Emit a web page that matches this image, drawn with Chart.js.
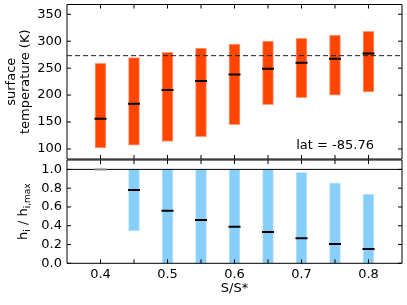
<!DOCTYPE html>
<html><head><meta charset="utf-8">
<script src="https://cdn.jsdelivr.net/npm/chart.js@4/dist/chart.umd.min.js"></script>
<style>
html,body{margin:0;padding:0;background:#fff;}
#wrap{position:relative;width:407px;height:305px;overflow:hidden;}
.box{position:absolute;left:0;width:407px;}
#err{position:absolute;left:70px;top:60px;font:10px monospace;color:#00f;}
</style></head><body>
<div id="wrap">
<div class="box" style="top:0;height:160px"><canvas id="c1" width="407" height="160"></canvas></div>
<div class="box" style="top:159px;height:146px"><canvas id="c2" width="407" height="146"></canvas></div>
<div id="err"></div>
</div>
<script>
// ---- data ----
const sValues    = [0.4, 0.45, 0.5, 0.55, 0.6, 0.65, 0.7, 0.75, 0.8];
const tempMin    = [102, 107, 114, 123, 145, 182, 195, 200, 206];
const tempMax    = [259, 269.5, 279.5, 287, 294.5, 300, 305.5, 311.5, 318.5];
const tempMedian = [156, 184, 209.5, 226, 238, 249, 260, 267.5, 277];
const freezingPoint = 273.15;
const hMin    = [1.0, 0.344, 0, 0, 0, 0, 0, 0, 0];
const hMax    = [1.0, 1.0, 1.0, 1.0, 1.0, 1.0, 0.968, 0.857, 0.737];
const hMedian = [1.0, 0.78, 0.56, 0.46, 0.39, 0.333, 0.266, 0.205, 0.152];
const hReference = 1.0;
const xRange = [0.35, 0.85];
const xTicks = [0.4, 0.45, 0.5, 0.55, 0.6, 0.65, 0.7, 0.75, 0.8];
const xTickLabels = ['0.4', '', '0.5', '', '0.6', '', '0.7', '', '0.8'];
const tempRange = [81.4, 368.1];
const tempTicks = [100, 150, 200, 250, 300, 350];
const tempTickLabels = ['100', '150', '200', '250', '300', '350'];
const hRange = [0, 1.1];
const hTicks = [0, 0.2, 0.4, 0.6, 0.8, 1.0];
const hTickLabels = ['0.0', '0.2', '0.4', '0.6', '0.8', '1.0'];
const annotationText = 'lat = -85.76';
const topYTitle = ['surface', 'temperature (K)'];
const xTitle = 'S/S*';

Chart.defaults.font.family = "'DejaVu Sans', sans-serif";
Chart.defaults.font.size = 13;
Chart.defaults.color = '#000';

const FONT = "'DejaVu Sans', sans-serif";

function report(e) {
  document.getElementById('err').textContent += ' ' + (e && e.message ? e.message : e);
}

function drawFrame(chart) {
  const ctx = chart.ctx, a = chart.chartArea, xs = chart.scales.x, ys = chart.scales.y;
  ctx.save();
  ctx.setLineDash([]);
  ctx.strokeStyle = '#000';
  ctx.lineWidth = 1;
  ctx.beginPath();
  const L = 4;
  xTicks.forEach(v => {
    const px = xs.getPixelForValue(v);
    ctx.moveTo(px, a.bottom); ctx.lineTo(px, a.bottom - L);
    ctx.moveTo(px, a.top); ctx.lineTo(px, a.top + L);
  });
  const yt = chart.canvas.id === 'c1' ? tempTicks : hTicks;
  yt.forEach(v => {
    const py = ys.getPixelForValue(v);
    ctx.moveTo(a.left, py); ctx.lineTo(a.left + L, py);
    ctx.moveTo(a.right, py); ctx.lineTo(a.right - L, py);
  });
  ctx.rect(a.left, a.top, a.right - a.left, a.bottom - a.top);
  ctx.stroke();
  ctx.restore();
}

const topPlugin = {
  id: 'topDecor',
  afterDraw(chart) {
    try {
      drawFrame(chart);
      const {ctx, chartArea: a} = chart;
      ctx.save();
      ctx.font = '13px ' + FONT;
      ctx.fillStyle = '#000';
      ctx.textAlign = 'right';
      ctx.textBaseline = 'alphabetic';
      ctx.fillText(annotationText, a.right - 28, a.bottom - 10);
      ctx.restore();
    } catch (e) { report(e); }
  }
};

const bottomPlugin = {
  id: 'bottomDecor',
  afterDraw(chart) {
    try {
      drawFrame(chart);
      const {ctx, chartArea: a} = chart;
      const pieces = [['h', 13, 0], ['i', 9, 3], [' / ', 13, 0], ['h', 13, 0], ['i,max', 9, 3]];
      ctx.save();
      ctx.fillStyle = '#000';
      let total = 0;
      for (const [t, s] of pieces) { ctx.font = s + 'px ' + FONT; total += ctx.measureText(t).width; }
      ctx.translate(26.5, (a.top + a.bottom) / 2);
      ctx.rotate(-Math.PI / 2);
      ctx.textBaseline = 'alphabetic';
      ctx.textAlign = 'left';
      let x = -total / 2;
      for (const [t, s, dy] of pieces) {
        ctx.font = s + 'px ' + FONT;
        ctx.fillText(t, x, dy);
        x += ctx.measureText(t).width;
      }
      ctx.restore();
    } catch (e) { report(e); }
  }
};

function zeroPad(s) { s.paddingTop = 0; s.paddingBottom = 0; s.paddingLeft = 0; s.paddingRight = 0; }

function xScale(showLabels) {
  return {
    type: 'linear', min: xRange[0], max: xRange[1], offset: false,
    grid: {display: false, drawTicks: false}, border: {display: false},
    afterBuildTicks: s => { s.ticks = xTicks.map(v => ({value: v})); },
    ticks: {display: showLabels, autoSkip: false, maxRotation: 0, minRotation: 0, padding: 4,
      callback: (v, i) => xTickLabels[i]},
    title: showLabels ? {display: true, text: xTitle, font: {size: 13}, padding: {top: 0, bottom: 8.5}} : {display: false},
    afterFit: s => { s.height = showLabels ? 41.7 : 0; zeroPad(s); }
  };
}

function yScale(range, ticks, labels, title) {
  return {
    type: 'linear', min: range[0], max: range[1],
    grid: {display: false, drawTicks: false}, border: {display: false},
    afterBuildTicks: s => { s.ticks = ticks.map(v => ({value: v})); },
    ticks: {padding: 5, autoSkip: false, callback: (v, i) => labels[i]},
    title: title ? {display: true, text: title, font: {size: 13, lineHeight: 1.08}, padding: {top: 4.7, bottom: 0}} : {display: false},
    afterFit: s => { s.width = 67; zeroPad(s); }
  };
}

const seg = (y) => [{x: xRange[0], y: y}, {x: xRange[1], y: y}];

try {
// ---- top chart ----
new Chart(document.getElementById('c1'), {
  type: 'bar',
  data: {
    datasets: [
      {type: 'scatter', data: sValues.map((s, i) => ({x: s, y: tempMedian[i]})),
        pointStyle: 'line', radius: 6, borderWidth: 2, borderColor: '#000', order: 1},
      {type: 'line', data: seg(freezingPoint), borderColor: '#222', borderWidth: 1,
        borderDash: [5, 3], pointRadius: 0, fill: false, order: 2},
      {type: 'bar', data: sValues.map((s, i) => ({x: s, y: [tempMin[i], tempMax[i]]})),
        backgroundColor: '#FF4500', borderColor: '#FF9C7E', borderWidth: 1,
        borderSkipped: false, barThickness: 11, order: 3}
    ]
  },
  options: {
    responsive: false, animation: false, events: [],
    layout: {autoPadding: false, padding: {left: 0, right: 5, top: 4.5, bottom: 1}},
    plugins: {legend: {display: false}, tooltip: {enabled: false}},
    scales: {
      x: xScale(false),
      y: yScale(tempRange, tempTicks, tempTickLabels, topYTitle)
    }
  },
  plugins: [topPlugin]
});

// ---- bottom chart ----
new Chart(document.getElementById('c2'), {
  type: 'bar',
  data: {
    datasets: [
      {type: 'scatter', data: sValues.map((s, i) => ({x: s, y: hMedian[i]})),
        pointStyle: 'line', radius: 6, borderWidth: 2,
        borderColor: sValues.map((s, i) => i === 0 ? '#8a8a8a' : '#000'), order: 1},
      {type: 'line', data: seg(hReference), borderColor: '#000', borderWidth: 1,
        pointRadius: 0, fill: false, order: 2},
      {type: 'bar', data: sValues.map((s, i) => ({x: s, y: [hMin[i], hMax[i]]})),
        backgroundColor: '#87CEFA', borderColor: '#C2E6FC', borderWidth: 1,
        borderSkipped: false, barThickness: 11, order: 3}
    ]
  },
  options: {
    responsive: false, animation: false, events: [],
    layout: {autoPadding: false, padding: {left: 0, right: 5, top: 1, bottom: 0}},
    plugins: {legend: {display: false}, tooltip: {enabled: false}},
    scales: {
      x: xScale(true),
      y: yScale(hRange, hTicks, hTickLabels, null)
    }
  },
  plugins: [bottomPlugin]
});
} catch (e) { report(e); }
</script>
</body></html>
